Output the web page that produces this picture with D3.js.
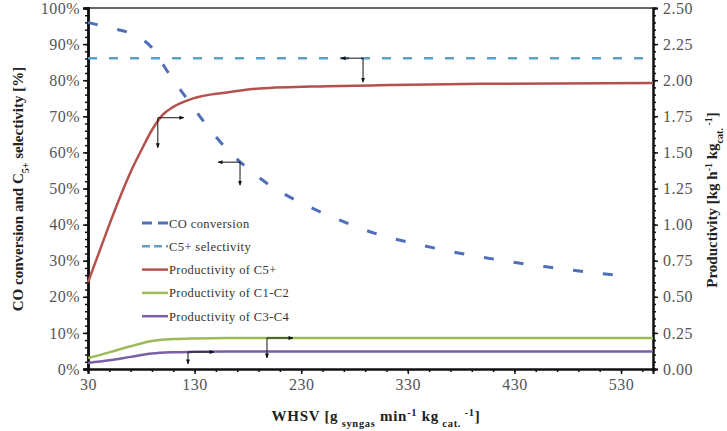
<!DOCTYPE html>
<html>
<head>
<meta charset="utf-8">
<script src="https://cdn.jsdelivr.net/npm/d3@7"></script>
<style>
  body { margin: 0; background: #fff; }
  svg { font-family: "Liberation Serif", "Times New Roman", serif; }
</style>
</head>
<body>
<div id="chart"></div>
<script>
// WHSV values and series
const coX = [30, 50, 70, 80, 90, 100, 110, 120, 140, 160, 180, 200, 230, 260, 300, 340, 380, 420, 460, 500, 540];
const coConversion = [96, 94.5, 93, 91.5, 89, 84.5, 80, 76, 68, 61, 55.5, 51, 46, 42, 37.5, 34.5, 32, 30, 28.3, 26.8, 25.6];

const selX = [30, 560];
const c5Selectivity = [86.1, 86.1];

const c5X = [30, 40, 50, 60, 70, 80, 90, 100, 110, 128, 160, 191, 254, 313, 400, 560];
const c5Prod = [0.60, 0.80, 1.00, 1.19, 1.365, 1.515, 1.655, 1.76, 1.815, 1.872, 1.915, 1.942, 1.958, 1.966, 1.975, 1.98];

const lightX = [30, 50, 70, 90, 110, 130, 160, 560];
const c1c2Prod = [0.076, 0.115, 0.158, 0.194, 0.207, 0.212, 0.215, 0.215];
const c3c4Prod = [0.042, 0.06, 0.084, 0.107, 0.116, 0.119, 0.121, 0.121];

const leftTicks = [0, 10, 20, 30, 40, 50, 60, 70, 80, 90, 100];
const rightTicks = [0, 0.25, 0.5, 0.75, 1, 1.25, 1.5, 1.75, 2, 2.25, 2.5];
const xTicks = [30, 130, 230, 330, 430, 530];

// annotation elbows: x value, y value, axis the curve is read on
const annoX = [95.5, 172.6, 288, 123.8, 197.9];
const annoY = [1.74, 57.3, 86.1, 0.118, 0.215];
const annoAxis = ["right", "left", "left", "right", "right"];

const width = 727, height = 431;
const margin = { top: 8, right: 74, bottom: 62, left: 88 };
const innerW = width - margin.left - margin.right;
const innerH = height - margin.top - margin.bottom;

const x = d3.scaleLinear().domain([30, 560]).range([margin.left, margin.left + innerW]);
const yL = d3.scaleLinear().domain([0, 100]).range([margin.top + innerH, margin.top]);
const yR = d3.scaleLinear().domain([0, 2.5]).range([margin.top + innerH, margin.top]);

const svg = d3.select("#chart").append("svg")
    .attr("width", width)
    .attr("height", height);

svg.append("defs").append("marker")
    .attr("id", "arr")
    .attr("viewBox", "0 0 10 10")
    .attr("refX", 9).attr("refY", 5)
    .attr("markerWidth", 5).attr("markerHeight", 5)
    .attr("orient", "auto")
    .append("path").attr("d", "M0,1L10,5L0,9z").attr("fill", "#111");

// top frame line
svg.append("line")
    .attr("x1", margin.left).attr("x2", margin.left + innerW)
    .attr("y1", margin.top).attr("y2", margin.top)
    .attr("stroke", "#333").attr("stroke-width", 1.5);

function styleAxis(g, w) {
    g.select(".domain").attr("stroke", "#111").attr("stroke-width", w);
    g.selectAll(".tick line").attr("stroke", "#111").attr("stroke-width", 1.5);
    g.selectAll("text")
        .attr("font-size", 16)
        .attr("letter-spacing", 0.5)
        .attr("fill", "#555")
        .attr("font-family", "Liberation Serif");
}

// left axis
const leftMin = svg.append("g").attr("transform", `translate(${margin.left},0)`)
    .call(d3.axisLeft(yL).tickValues(d3.range(0, 100.1, 2)).tickSize(3).tickFormat(""));
const leftMaj = svg.append("g").attr("transform", `translate(${margin.left},0)`)
    .call(d3.axisLeft(yL).tickValues(leftTicks).tickSize(5).tickPadding(3).tickFormat(d => d + "%"));
styleAxis(leftMin, 2.5);
styleAxis(leftMaj, 2.5);

// right axis
const rightMin = svg.append("g").attr("transform", `translate(${margin.left + innerW},0)`)
    .call(d3.axisRight(yR).tickValues(d3.range(0, 2.501, 0.05)).tickSize(3).tickFormat(""));
const rightMaj = svg.append("g").attr("transform", `translate(${margin.left + innerW},0)`)
    .call(d3.axisRight(yR).tickValues(rightTicks).tickSize(5).tickPadding(5).tickFormat(d3.format(".2f")));
styleAxis(rightMin, 2);
styleAxis(rightMaj, 2);

// bottom axis
const bottomMin = svg.append("g").attr("transform", `translate(0,${margin.top + innerH})`)
    .call(d3.axisBottom(x).tickValues(d3.range(30, 561, 20)).tickSize(3).tickFormat(""));
const bottomMaj = svg.append("g").attr("transform", `translate(0,${margin.top + innerH})`)
    .call(d3.axisBottom(x).tickValues(xTicks).tickSize(5).tickPadding(5).tickFormat(d3.format("d")));
styleAxis(bottomMin, 2);
styleAxis(bottomMaj, 2);

// series
const series = [
    { name: "CO conversion", xs: coX, ys: coConversion, scale: yL, color: "#4f6fba", width: 3, dash: "10,20", legDash: "10,6" },
    { name: "C5+ selectivity", xs: selX, ys: c5Selectivity, scale: yL, color: "#5fa0c8", width: 2.5, dash: "9,12", legDash: "8,4" },
    { name: "Productivity of C5+", xs: c5X, ys: c5Prod, scale: yR, color: "#b5514d", width: 2.5, dash: null, legDash: null },
    { name: "Productivity of C1-C2", xs: lightX, ys: c1c2Prod, scale: yR, color: "#9bbb59", width: 2.5, dash: null, legDash: null },
    { name: "Productivity of C3-C4", xs: lightX, ys: c3c4Prod, scale: yR, color: "#7a5fa6", width: 2.5, dash: null, legDash: null }
];

series.forEach(s => {
    const line = d3.line()
        .x(d => x(d[0]))
        .y(d => s.scale(d[1]))
        .curve(d3.curveMonotoneX);
    svg.append("path")
        .datum(s.xs.map((v, i) => [v, s.ys[i]]))
        .attr("d", line)
        .attr("fill", "none")
        .attr("stroke", s.color)
        .attr("stroke-width", s.width)
        .attr("stroke-dasharray", s.dash);
});

// arrow elbows pointing to the axis each curve belongs to
const elbowH = { right: 26, left: -22 };
const elbowV = [30, 23, 24, 12, 20];
annoX.forEach((xv, i) => {
    const sc = annoAxis[i] === "left" ? yL : yR;
    const cx = x(xv), cy = sc(annoY[i]);
    const g = svg.append("g").attr("stroke", "#111").attr("stroke-width", 1);
    g.append("line").attr("x1", cx).attr("y1", cy).attr("x2", cx + elbowH[annoAxis[i]]).attr("y2", cy).attr("marker-end", "url(#arr)");
    g.append("line").attr("x1", cx).attr("y1", cy).attr("x2", cx).attr("y2", cy + elbowV[i]).attr("marker-end", "url(#arr)");
});

// legend
const legend = svg.append("g").attr("transform", "translate(142,223)");
series.forEach((s, i) => {
    const row = legend.append("g").attr("transform", `translate(0,${i * 23.3})`);
    row.append("line")
        .attr("x1", 0).attr("x2", 26)
        .attr("stroke", s.color)
        .attr("stroke-width", s.width)
        .attr("stroke-dasharray", s.legDash);
    row.append("text")
        .attr("x", 27).attr("y", 4.5)
        .attr("font-size", 12.5)
        .attr("letter-spacing", 0.4)
        .attr("fill", "#333")
        .text(s.name);
});

// axis titles
const leftTitle = svg.append("text")
    .attr("transform", "translate(23,189) rotate(-90)")
    .attr("text-anchor", "middle")
    .attr("font-size", 15).attr("font-weight", "bold").attr("fill", "#222");
leftTitle.append("tspan").text("CO conversion and C");
leftTitle.append("tspan").attr("baseline-shift", "sub").attr("font-size", 10).text("5+");
leftTitle.append("tspan").text(" selectivity [%]");

const rightTitle = svg.append("text")
    .attr("transform", "translate(717,200) rotate(-90)")
    .attr("text-anchor", "middle")
    .attr("font-size", 15).attr("font-weight", "bold").attr("fill", "#222");
rightTitle.append("tspan").text("Productivity [kg h");
rightTitle.append("tspan").attr("baseline-shift", "super").attr("font-size", 10).text("-1");
rightTitle.append("tspan").text(" kg");
rightTitle.append("tspan").attr("baseline-shift", "sub").attr("font-size", 10).text("cat.");
rightTitle.append("tspan").attr("baseline-shift", "super").attr("font-size", 10).text(" -1");
rightTitle.append("tspan").text("]");

const xTitle = svg.append("text")
    .attr("x", 376).attr("y", 421)
    .attr("text-anchor", "middle")
    .attr("font-size", 15).attr("letter-spacing", 0.7)
    .attr("font-weight", "bold").attr("fill", "#222");
xTitle.append("tspan").text("WHSV [g");
xTitle.append("tspan").attr("baseline-shift", "sub").attr("font-size", 10.5).text(" syngas");
xTitle.append("tspan").text(" min");
xTitle.append("tspan").attr("baseline-shift", "super").attr("font-size", 10.5).text("-1");
xTitle.append("tspan").text(" kg");
xTitle.append("tspan").attr("baseline-shift", "sub").attr("font-size", 10.5).text(" cat.");
xTitle.append("tspan").attr("baseline-shift", "super").attr("font-size", 10.5).text(" -1");
xTitle.append("tspan").text("]");
</script>
</body>
</html>
